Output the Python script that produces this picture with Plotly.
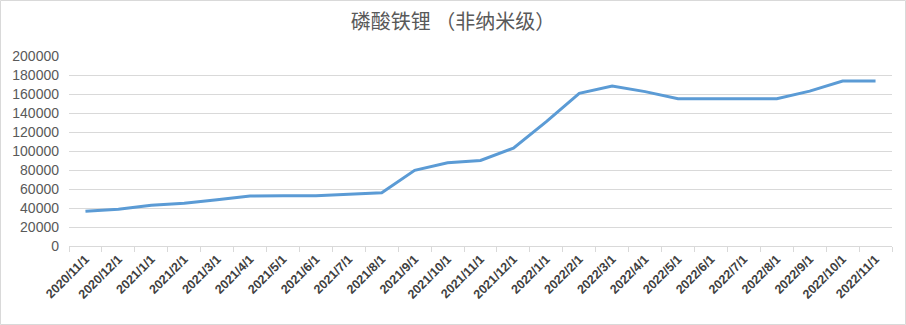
import plotly.graph_objects as go

categories = ["2020/11/1", "2020/12/1", "2021/1/1", "2021/2/1", "2021/3/1", "2021/4/1",
              "2021/5/1", "2021/6/1", "2021/7/1", "2021/8/1", "2021/9/1", "2021/10/1",
              "2021/11/1", "2021/12/1", "2022/1/1", "2022/2/1", "2022/3/1", "2022/4/1",
              "2022/5/1", "2022/6/1", "2022/7/1", "2022/8/1", "2022/9/1", "2022/10/1",
              "2022/11/1"]
prices = [36500, 38600, 42800, 45000, 48700, 52600, 52800, 52800, 54500, 56000,
          79700, 87700, 90000, 103000, 131000, 160700, 168400, 162500, 155000, 155000,
          155000, 155000, 163000, 173700, 173700]
y_ticks = list(range(0, 200001, 20000))

W, H = 906, 325
ml, mr, mt, mb = 69, 14, 56, 79

fig = go.Figure()
fig.add_trace(go.Scatter(x=categories, y=prices, mode="lines",
                         line=dict(color="#5B9BD5", width=3), hoverinfo="x+y"))

fig.update_layout(
    width=W, height=H,
    margin=dict(l=ml, r=mr, t=mt, b=mb),
    paper_bgcolor="white", plot_bgcolor="white",
    showlegend=False,
    title=dict(text="磷酸铁锂 （非纳米级）", x=0.5, xanchor="center", y=1 - 22 / H, yanchor="middle",
               font=dict(family="Noto Sans CJK SC", size=20, color="#595959")),
    xaxis=dict(type="category", tickson="boundaries", ticks="outside", ticklen=5,
               range=[-0.5, len(categories) - 0.5],
               tickcolor="#D9D9D9", showline=True, linecolor="#D9D9D9", linewidth=1,
               showgrid=False, tickangle=-45,
               tickfont=dict(family="Liberation Sans Narrow, Arial Narrow, Liberation Sans", size=12.5,
                             color="#404040", weight="bold")),
    yaxis=dict(range=[0, 200000], tickvals=y_ticks, ticktext=[str(v) for v in y_ticks],
               showgrid=True, gridcolor="#D9D9D9", gridwidth=1, zeroline=False,
               showline=False, ticks="", ticklabelstandoff=9,
               tickfont=dict(family="Liberation Sans, Arial", size=14, color="#595959")),
)

pw = W - ml - mr
ph = H - mt - mb
fig.add_shape(type="rect", xref="paper", yref="paper",
              x0=(0.5 - ml) / pw, x1=(W - 0.5 - ml) / pw,
              y0=-(mb - 0.5) / ph, y1=1 + (mt - 0.5) / ph,
              line=dict(color="#D9D9D9", width=1), layer="below")

fig.write_html("out.html")
